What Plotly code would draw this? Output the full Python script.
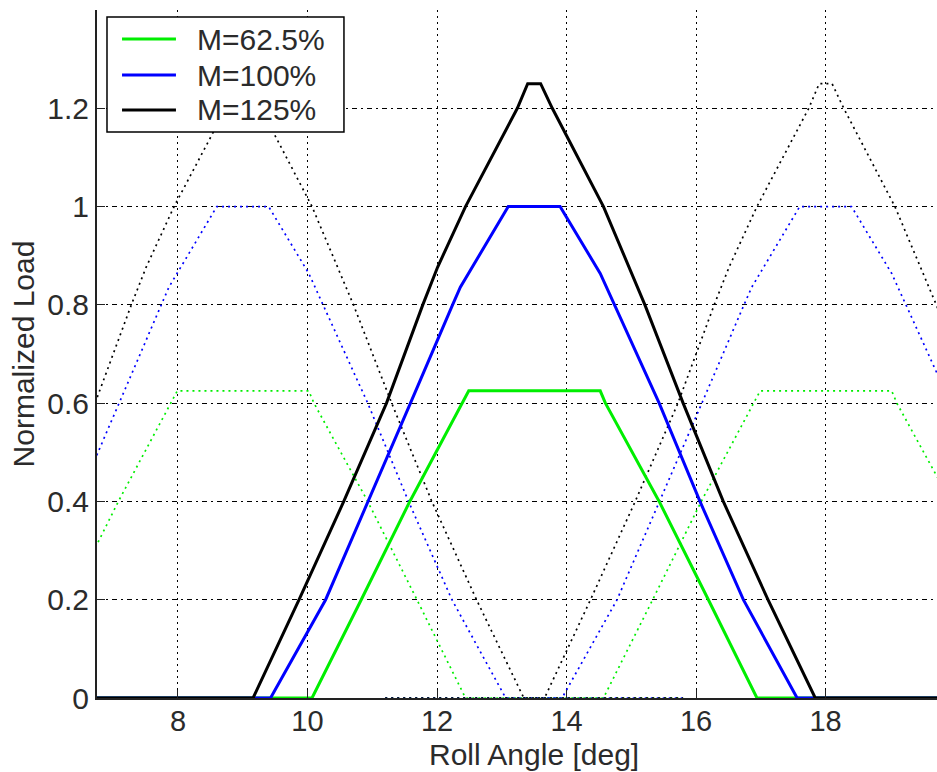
import plotly.graph_objects as go

# ---------------- data ----------------
# centre roller (solid)
green_x = [6.0, 10.07, 10.83, 11.58, 12.49, 14.52, 14.60, 15.43, 16.19, 16.94, 21.0]
green_y = [0, 0, 0.2, 0.4, 0.625, 0.625, 0.6, 0.4, 0.2, 0, 0]

blue_x = [6.0, 9.43, 10.28, 10.94, 11.59, 12.24, 12.36, 13.10, 13.90, 14.52, 14.74, 15.43, 16.06, 16.73, 17.56, 21.0]
blue_y = [0, 0, 0.2, 0.4, 0.6, 0.8, 0.836, 1.0, 1.0, 0.864, 0.8, 0.6, 0.4, 0.2, 0, 0]

black_x = [6.0, 9.16, 9.87, 10.56, 11.22, 11.78, 12.01, 12.44, 13.24, 13.40, 13.60, 13.78, 14.57, 15.21, 15.80, 16.42, 17.11, 17.84, 21.0]
black_y = [0, 0, 0.2, 0.4, 0.6, 0.8, 0.877, 1.0, 1.2, 1.25, 1.25, 1.2, 1.0, 0.8, 0.6, 0.4, 0.2, 0, 0]

# preceding roller (dotted, left)
green_l_x = [5.57, 6.33, 7.08, 7.99, 10.02, 10.10, 10.93, 11.69, 12.44, 15.8]
green_l_y = [0, 0.2, 0.4, 0.625, 0.625, 0.6, 0.4, 0.2, 0, 0]
blue_l_x = [4.93, 5.78, 6.44, 7.09, 7.74, 7.86, 8.60, 9.40, 10.02, 10.24, 10.93, 11.56, 12.23, 13.06, 15.8]
blue_l_y = [0, 0.2, 0.4, 0.6, 0.8, 0.836, 1.0, 1.0, 0.864, 0.8, 0.6, 0.4, 0.2, 0, 0]
black_l_x = [4.66, 5.37, 6.06, 6.72, 7.28, 7.51, 7.94, 8.74, 8.90, 9.10, 9.28, 10.07, 10.71, 11.30, 11.92, 12.61, 13.34, 15.8]
black_l_y = [0, 0.2, 0.4, 0.6, 0.8, 0.877, 1.0, 1.2, 1.25, 1.25, 1.2, 1.0, 0.8, 0.6, 0.4, 0.2, 0, 0]

# following roller (dotted, right)
green_r_x = [11.2, 14.57, 15.33, 16.08, 16.99, 19.02, 19.10, 19.93, 20.69]
green_r_y = [0, 0, 0.2, 0.4, 0.625, 0.625, 0.6, 0.4, 0.2]
blue_r_x = [11.2, 13.93, 14.78, 15.44, 16.09, 16.74, 16.86, 17.60, 18.40, 19.02, 19.24, 19.93, 20.56]
blue_r_y = [0, 0, 0.2, 0.4, 0.6, 0.8, 0.836, 1.0, 1.0, 0.864, 0.8, 0.6, 0.4]
black_r_x = [11.2, 13.66, 14.37, 15.06, 15.72, 16.28, 16.51, 16.94, 17.74, 17.90, 18.10, 18.28, 19.07, 19.71, 20.30]
black_r_y = [0, 0, 0.2, 0.4, 0.6, 0.8, 0.877, 1.0, 1.2, 1.25, 1.25, 1.2, 1.0, 0.8, 0.6]

series_names = ["M=62.5%", "M=100%", "M=125%"]
colors = ["#00ee00", "#0000ff", "#000000"]

x_ticks = [8, 10, 12, 14, 16, 18]
y_ticks = [0, 0.2, 0.4, 0.6, 0.8, 1.0, 1.2]

FONT = "Arial, 'Liberation Sans', sans-serif"
TXT = "#2b2b2b"

fig = go.Figure()

dotted = [
    (green_l_x, green_l_y, 0), (blue_l_x, blue_l_y, 1), (black_l_x, black_l_y, 2),
    (green_r_x, green_r_y, 0), (blue_r_x, blue_r_y, 1), (black_r_x, black_r_y, 2),
]
for xs, ys, ci in dotted:
    fig.add_trace(go.Scatter(x=xs, y=ys, mode="lines", showlegend=False, hoverinfo="skip",
                             line=dict(color=colors[ci], width=1.7, dash="2px,4px")))

for xs, ys, name, c in [(green_x, green_y, series_names[0], colors[0]),
                        (blue_x, blue_y, series_names[1], colors[1]),
                        (black_x, black_y, series_names[2], colors[2])]:
    fig.add_trace(go.Scatter(x=xs, y=ys, mode="lines", name=name, showlegend=False,
                             line=dict(color=c, width=3)))

# ---- legend box drawn as shapes + text (matches the reference's compact legend) ----
box = dict(x0=0.0119, x1=0.294, y0=0.8227, y1=0.9898)
row_y = [0.9578, 0.9055, 0.8547]
shapes = [dict(type="rect", xref="paper", yref="paper", layer="above",
               fillcolor="white", line=dict(color="black", width=1.5), **box)]
annotations = []
for name, c, ry in zip(series_names, colors, row_y):
    shapes.append(dict(type="line", xref="paper", yref="paper", layer="above",
                       x0=0.0298, x1=0.094, y0=ry, y1=ry, line=dict(color=c, width=3)))
    annotations.append(dict(text=name, xref="paper", yref="paper", x=0.1167, y=ry,
                            xanchor="left", yanchor="middle", showarrow=False,
                            font=dict(size=30, color=TXT, family=FONT)))

annotations.append(dict(text="Roll Angle [deg]", x=13.5, xref="x", y=0, yref="paper",
                        yshift=-38, yanchor="top", showarrow=False,
                        font=dict(size=30, color=TXT, family=FONT)))

fig.update_layout(
    width=937, height=772,
    margin=dict(l=97, r=0, t=10, b=74),
    plot_bgcolor="white", paper_bgcolor="white",
    font=dict(family=FONT, size=30, color=TXT),
    showlegend=False,
    xaxis=dict(range=[6.75, 19.72], tickvals=x_ticks, ticktext=[str(v) for v in x_ticks],
               showgrid=True, gridcolor="black", gridwidth=1, griddash="2px,4px",
               zeroline=False, showline=True, linecolor="#222", linewidth=1.5,
               ticks="inside", ticklen=8, tickcolor="#222", ticklabelstandoff=-4,
               tickfont=dict(size=29, color=TXT)),
    yaxis=dict(range=[0, 1.4], tickvals=y_ticks,
               showgrid=True, gridcolor="black", gridwidth=1, griddash="5px,4px,2px,4px",
               zeroline=False, showline=True, linecolor="#222", linewidth=2,
               ticks="inside", ticklen=8, tickcolor="#222", tickfont=dict(size=30, color=TXT),
               title=dict(text="Normalized Load", font=dict(size=30, color=TXT), standoff=4)),
    shapes=shapes,
    annotations=annotations,
)

fig.write_html("out.html")
